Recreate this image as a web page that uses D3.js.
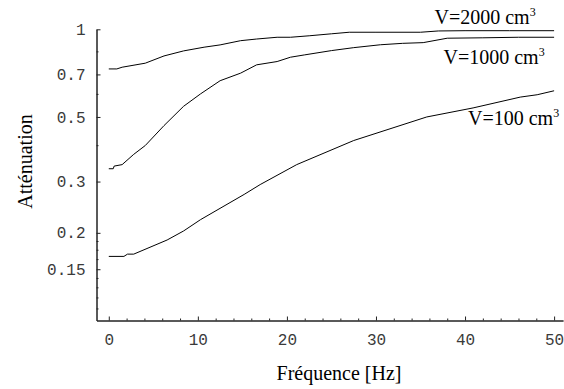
<!DOCTYPE html>
<html>
<head>
<meta charset="utf-8">
<script src="https://cdn.jsdelivr.net/npm/d3@7"></script>
<style>
  html, body { margin: 0; padding: 0; background: #fff; }
  svg { display: block; }
</style>
</head>
<body>
<svg id="chart" width="564" height="389"></svg>
<script>
// Attenuation vs. frequency for three volumes
const freq2000 = [0, 0.9, 1.5, 4.1, 6.2, 8.4, 10.7, 12.5, 14.8, 16.6, 18.9, 20.4, 22.5, 25, 27, 30, 35, 37, 40, 45, 50];
const att2000  = [0.731, 0.731, 0.741, 0.765, 0.81, 0.843, 0.868, 0.884, 0.914, 0.926, 0.939, 0.939, 0.95, 0.965, 0.977, 0.977, 0.977, 0.987, 0.989, 0.989, 0.989];

const freq1000 = [0, 0.5, 0.6, 1.5, 2.8, 4.1, 6.2, 8.4, 10.3, 12.5, 14.8, 16.6, 18.9, 20.4, 22, 25, 27.5, 30.5, 33, 35.3, 38, 42, 46, 50];
const att1000  = [0.332, 0.332, 0.339, 0.343, 0.372, 0.399, 0.467, 0.544, 0.600, 0.666, 0.707, 0.755, 0.775, 0.802, 0.817, 0.845, 0.865, 0.885, 0.895, 0.90, 0.932, 0.935, 0.939, 0.939];

const freq100 = [0, 1.7, 2.1, 2.8, 6.55, 8.4, 10.3, 15.2, 17.0, 21.1, 27.5, 35.7, 40.9, 46.2, 48.1, 50];
const att100  = [0.166, 0.166, 0.169, 0.169, 0.189, 0.203, 0.222, 0.271, 0.293, 0.343, 0.415, 0.50, 0.537, 0.585, 0.596, 0.615];

const seriesLabels = ["V=2000 cm", "V=1000 cm", "V=100 cm"];

const xMajorTicks = [0, 10, 20, 30, 40, 50];
const xMinorTicks = [2, 4, 6, 8, 12, 14, 16, 18, 22, 24, 26, 28, 32, 34, 36, 38, 42, 44, 46, 48];
const yMajorTicks = [0.15, 0.2, 0.3, 0.5, 0.7, 1];
const yTickLabels = ["0.15", "0.2", "0.3", "0.5", "0.7", "1"];
const yMinorTicks = [0.11, 0.12, 0.13, 0.14, 0.1625, 0.175, 0.1875, 0.4, 0.6, 0.84];

const svg = d3.select("#chart");

const x = d3.scaleLinear().domain([-1.38, 51]).range([96.5, 563]);
const y = d3.scaleLog().domain([0.1, 1]).range([320.5, 29.3]);

const tickFont = "'Liberation Mono', 'Courier New', monospace";
const textFont = "'Liberation Serif', 'Times New Roman', serif";
const axisColor = "#222";

// x axis: inward ticks
const gx = svg.append("g").attr("transform", "translate(0,320.5)");
gx.call(d3.axisBottom(x).tickValues(xMinorTicks).tickSize(-2).tickSizeOuter(0).tickFormat(""));
gx.append("g").call(d3.axisBottom(x).tickValues(xMajorTicks).tickSize(-4).tickSizeOuter(0).tickPadding(13).tickFormat(d3.format("d")));

// y axis (log scale): inward ticks
const gy = svg.append("g").attr("transform", "translate(96.5,0)");
gy.call(d3.axisLeft(y).tickValues(yMinorTicks).tickSize(-2).tickSizeOuter(0).tickFormat(""));
gy.append("g").call(d3.axisLeft(y).tickValues(yMajorTicks).tickSize(-4).tickSizeOuter(0).tickPadding(11)
  .tickFormat((d, i) => yTickLabels[i]));

svg.selectAll(".domain").attr("stroke", axisColor).attr("stroke-width", 1);
svg.selectAll(".tick line").attr("stroke", axisColor).attr("stroke-width", 1);
svg.selectAll(".tick text")
  .attr("font-family", tickFont)
  .attr("font-size", 16)
  .attr("fill", "#3a3a3a");

// curves
const line = d3.line().x(d => x(d[0])).y(d => y(d[1]));
const curves = [
  d3.zip(freq2000, att2000),
  d3.zip(freq1000, att1000),
  d3.zip(freq100, att100)
];
svg.append("g").selectAll("path").data(curves).join("path")
  .attr("d", line)
  .attr("fill", "none")
  .attr("stroke", "#000")
  .attr("stroke-width", 1);

// curve labels
const labelPos = [[434.5, 24], [443.5, 64], [468, 125]];
const labels = svg.append("g")
  .attr("font-family", textFont)
  .attr("font-size", 20)
  .attr("fill", "#000");
seriesLabels.forEach((t, i) => {
  const txt = labels.append("text").attr("x", labelPos[i][0]).attr("y", labelPos[i][1]);
  txt.append("tspan").text(t);
  txt.append("tspan").attr("font-size", 12).attr("dy", -8).text("3");
});

// axis titles
svg.append("text")
  .attr("x", 339).attr("y", 379.5)
  .attr("text-anchor", "middle")
  .attr("font-family", textFont)
  .attr("font-size", 20)
  .text("Fréquence [Hz]");

svg.append("text")
  .attr("transform", "translate(32,161.5) rotate(-90)")
  .attr("text-anchor", "middle")
  .attr("font-family", textFont)
  .attr("font-size", 20)
  .text("Atténuation");
</script>
</body>
</html>
